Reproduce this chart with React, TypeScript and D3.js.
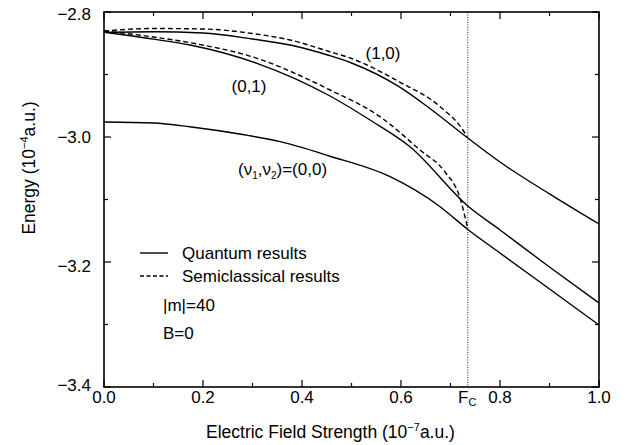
import React from "react";
import * as d3 from "d3";

// ---- data (field in 1e-7 a.u., energy in 1e-4 a.u.) ----
const q00F = [0, 0.1, 0.173, 0.28, 0.356, 0.455, 0.578, 0.679, 0.735, 0.8, 0.9, 1.0];
const q00E = [-2.976, -2.9776, -2.9835, -2.996, -3.0075, -3.0304, -3.0635, -3.1115, -3.148, -3.1856, -3.2432, -3.3008];

const q01F = [0, 0.1, 0.1737, 0.309, 0.4566, 0.5374, 0.6182, 0.735, 0.8, 0.9, 1.0];
const q01E = [-2.8325, -2.8434, -2.8528, -2.8821, -2.9344, -2.9728, -3.0155, -3.1104, -3.1488, -3.208, -3.2656];

const q10F = [0, 0.1, 0.2, 0.3, 0.376, 0.455, 0.5, 0.596, 0.657, 0.735, 0.8, 0.9, 1.0];
const q10E = [-2.8325, -2.8317, -2.8336, -2.8432, -2.8528, -2.8696, -2.8816, -2.9195, -2.9536, -3.0016, -3.04, -3.091, -3.1392];

const s10F = [0, 0.1, 0.2, 0.3, 0.376, 0.455, 0.5, 0.596, 0.679, 0.725, 0.735];
const s10E = [-2.8304, -2.8264, -2.8272, -2.8344, -2.8448, -2.8632, -2.8744, -2.9115, -2.9515, -2.9888, -3.0016];

const s01F = [0, 0.1, 0.1737, 0.309, 0.4566, 0.5576, 0.6384, 0.6889, 0.7192, 0.735];
const s01E = [-2.8304, -2.84, -2.8491, -2.8741, -2.9248, -2.9675, -3.0208, -3.056, -3.0976, -3.1472];

const criticalField = 0.735;

const xMajorTicks = [0, 0.2, 0.4, 0.6, 0.8, 1.0];
const xTickLabels = ["0.0", "0.2", "0.4", "0.6", "0.8", "1.0"];
const xMinorTicks = [0.1, 0.3, 0.5, 0.7, 0.9];
const yMajorTicks = [-2.8, -3.0, -3.2, -3.4];
const yTickLabels = ["\u22122.8", "\u22123.0", "\u22123.2", "\u22123.4"];
const yMinorTicks = [-2.9, -3.1, -3.3];

const FONT = "'Liberation Sans', Arial, Helvetica, sans-serif";

export default function App() {
  const W = 628, H = 445;
  const left = 104, right = 599, top = 12, bottom = 387;
  const x = d3.scaleLinear().domain([0, 1]).range([left, right]);
  const y = d3.scaleLinear().domain([-3.4, -2.8]).range([bottom, top]);
  const line = d3
    .line<[number, number]>()
    .x((d) => x(d[0]))
    .y((d) => y(d[1]))
    .curve(d3.curveMonotoneX);
  const zip = (a: number[], b: number[]) => a.map((v, i) => [v, b[i]] as [number, number]);

  const solid = [zip(q00F, q00E), zip(q01F, q01E), zip(q10F, q10E)];
  const dashed = [zip(s10F, s10E), zip(s01F, s01E)];

  const majorLen = 7, minorLen = 4;
  const yLabelShift = [2, 0, 4, -2];

  return (
    <svg width={W} height={H} style={{ position: "absolute", left: 0, top: 0, background: "#fff" }} fontFamily={FONT}>
      <rect x={0} y={0} width={W} height={H} fill="#fff" />
      {/* critical field dotted line */}
      <line x1={x(criticalField)} x2={x(criticalField)} y1={top} y2={bottom} stroke="#222" strokeWidth={1} strokeDasharray="1,1.5" />
      {/* curves */}
      {solid.map((d, i) => (
        <path key={"s" + i} d={line(d) || ""} fill="none" stroke="#000" strokeWidth={1.4} />
      ))}
      {dashed.map((d, i) => (
        <path key={"d" + i} d={line(d) || ""} fill="none" stroke="#000" strokeWidth={1.4} strokeDasharray="5,3" />
      ))}
      {/* frame */}
      <rect x={left} y={top} width={right - left} height={bottom - top} fill="none" stroke="#000" strokeWidth={1.6} />
      {/* x ticks */}
      {xMajorTicks.map((t, i) => (
        <g key={"xm" + i}>
          <line x1={x(t)} x2={x(t)} y1={bottom} y2={bottom - majorLen} stroke="#000" strokeWidth={1.2} />
          <line x1={x(t)} x2={x(t)} y1={top} y2={top + majorLen} stroke="#000" strokeWidth={1.2} />
          <text x={x(t)} y={403} fontSize={17} textAnchor="middle">{xTickLabels[i]}</text>
        </g>
      ))}
      {xMinorTicks.map((t, i) => (
        <g key={"xn" + i}>
          <line x1={x(t)} x2={x(t)} y1={bottom} y2={bottom - minorLen} stroke="#000" strokeWidth={1.2} />
          <line x1={x(t)} x2={x(t)} y1={top} y2={top + minorLen} stroke="#000" strokeWidth={1.2} />
        </g>
      ))}
      {/* y ticks */}
      {yMajorTicks.map((t, i) => (
        <g key={"ym" + i}>
          <line x1={left} x2={left + majorLen} y1={y(t)} y2={y(t)} stroke="#000" strokeWidth={1.2} />
          <line x1={right} x2={right - majorLen} y1={y(t)} y2={y(t)} stroke="#000" strokeWidth={1.2} />
          <text x={91} y={y(t) + 6 + yLabelShift[i]} fontSize={17} textAnchor="end">{yTickLabels[i]}</text>
        </g>
      ))}
      {yMinorTicks.map((t, i) => (
        <g key={"yn" + i}>
          <line x1={left} x2={left + minorLen} y1={y(t)} y2={y(t)} stroke="#000" strokeWidth={1.2} />
          <line x1={right} x2={right - minorLen} y1={y(t)} y2={y(t)} stroke="#000" strokeWidth={1.2} />
        </g>
      ))}
      {/* Fc label */}
      <text x={458} y={403} fontSize={17}>
        F<tspan fontSize={11} dy={3}>C</tspan>
      </text>
      {/* axis titles */}
      <text x={206} y={438} fontSize={17.5}>
        Electric Field Strength (10<tspan fontSize={11} dy={-7}>−7</tspan><tspan dy={7}>a.u.)</tspan>
      </text>
      <text transform="translate(35,168) rotate(-90)" fontSize={17.5} textAnchor="middle">
        Energy (10<tspan fontSize={11} dy={-7}>−4</tspan><tspan dy={7}>a.u.)</tspan>
      </text>
      {/* curve labels */}
      <text x={383} y={59} fontSize={17} textAnchor="middle">(1,0)</text>
      <text x={249} y={92} fontSize={17} textAnchor="middle">(0,1)</text>
      <text x={238} y={175} fontSize={17}>
        (ν<tspan fontSize={10} dy={4}>1</tspan><tspan dy={-4}>,ν</tspan><tspan fontSize={10} dy={4}>2</tspan><tspan dy={-4}>)=(0,0)</tspan>
      </text>
      {/* legend */}
      <line x1={140} x2={168} y1={253} y2={253} stroke="#000" strokeWidth={1.4} />
      <text x={182} y={259} fontSize={17}>Quantum results</text>
      <line x1={140} x2={168} y1={276} y2={276} stroke="#000" strokeWidth={1.4} strokeDasharray="4,2.5" />
      <text x={182} y={282} fontSize={17}>Semiclassical results</text>
      <text x={163} y={311} fontSize={17}>|m|=40</text>
      <text x={163} y={339} fontSize={17}>B=0</text>
    </svg>
  );
}
